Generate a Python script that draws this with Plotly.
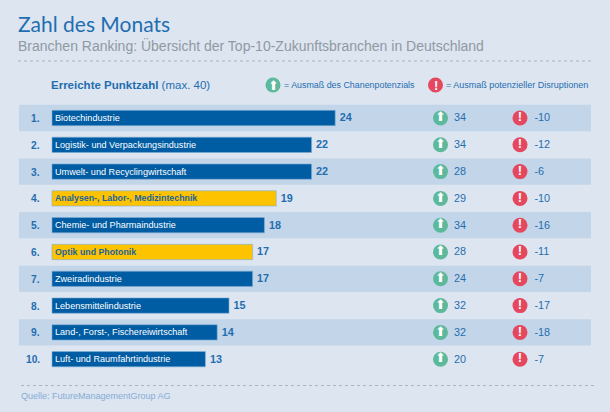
import plotly.graph_objects as go

W, H = 610, 412
ranks = [1, 2, 3, 4, 5, 6, 7, 8, 9, 10]
branches = ["Biotechindustrie", "Logistik- und Verpackungsindustrie", "Umwelt- und Recyclingwirtschaft",
            "Analysen-, Labor-, Medizintechnik", "Chemie- und Pharmaindustrie", "Optik und Photonik",
            "Zweiradindustrie", "Lebensmittelindustrie", "Land-, Forst-, Fischereiwirtschaft",
            "Luft- und Raumfahrtindustrie"]
points = [24, 22, 22, 19, 18, 17, 17, 15, 14, 13]
chances = [34, 34, 28, 29, 34, 28, 24, 32, 32, 20]
disruptions = [-10, -12, -6, -10, -16, -11, -7, -17, -18, -7]
highlighted = [4, 6]

BG = "#dde5f0"
BAND = "#c3d5e9"
BLUE = "#005ca3"
GOLD = "#fdc300"
TXT = "#1f6eb0"
GREEN = "#5cb99c"
RED = "#e5475f"
SANS = "Liberation Sans"

PX_PER_UNIT = 11.8
X0 = 52
ROW0, ROW_H = 118, 26.8
xr = [(0 - X0) / PX_PER_UNIT, (W - X0) / PX_PER_UNIT]
yr = [1 + (H - ROW0) / ROW_H, 1 - ROW0 / ROW_H]
TEXT_DY = 0.8 / ROW_H
text_y = [r + TEXT_DY for r in ranks]


def px(x):
    return (x - X0) / PX_PER_UNIT


fig = go.Figure()
fig.add_trace(go.Bar(
    y=ranks, x=points, orientation="h", width=0.57,
    marker=dict(color=[GOLD if r in highlighted else BLUE for r in ranks],
                line=dict(color="#7fb0d8", width=0.6)),
    text=branches, textposition="inside", insidetextanchor="start", constraintext="none",
    textangle=0,
    insidetextfont=dict(family=SANS,
                        size=[8.8 if r in highlighted else 9.1 for r in ranks],
                        weight=["bold" if r in highlighted else "normal" for r in ranks],
                        color=["#1b639f" if r in highlighted else "white" for r in ranks]),
    hoverinfo="skip"))
fig.add_trace(go.Scatter(
    y=text_y, x=[p + 4.5 / PX_PER_UNIT for p in points], mode="text", text=[str(p) for p in points],
    textposition="middle right",
    textfont=dict(family=SANS, size=10.8, color=TXT, weight="bold"), hoverinfo="skip"))

c_x = [px(440.5)] * 10
d_x = [px(520)] * 10
fig.add_trace(go.Scatter(y=ranks, x=c_x, mode="markers+text", text=["⬆"] * 10,
                         textposition="middle center",
                         textfont=dict(family="DejaVu Sans", size=13, color="white"),
                         marker=dict(symbol="circle", size=15, color=GREEN), hoverinfo="skip"))
fig.add_trace(go.Scatter(y=ranks, x=d_x, mode="markers+text", text=["!"] * 10,
                         textposition="middle center",
                         textfont=dict(family=SANS, size=13, color="white", weight="bold"),
                         marker=dict(symbol="circle", size=15, color=RED), hoverinfo="skip"))
fig.add_trace(go.Scatter(y=text_y, x=[px(454)] * 10, mode="text", text=[str(v) for v in chances],
                         textposition="middle right",
                         textfont=dict(family=SANS, size=10.8, color=TXT), hoverinfo="skip"))
fig.add_trace(go.Scatter(y=text_y, x=[px(534.5)] * 10, mode="text", text=[str(v) for v in disruptions],
                         textposition="middle right",
                         textfont=dict(family=SANS, size=10.8, color=TXT), hoverinfo="skip"))


def note(x, y, text, size, color, family=SANS, anchor="left"):
    fig.add_annotation(x=x / W, y=1 - y / H, xref="paper", yref="paper", text=text, showarrow=False,
                       xanchor=anchor, yanchor="middle", font=dict(family=family, size=size, color=color))


note(16, 24, "Zahl des Monats", 21, TXT, "Lato")
note(16, 46, "Branchen Ranking: Übersicht der Top-10-Zukunftsbranchen in Deutschland", 14, "#8f99a3")
note(49, 85, "<b>Erreichte Punktzahl</b> (max. 40)", 11.5, TXT)
note(282, 85, "= Ausmaß des Chanenpotenzials", 8.9, TXT)
note(444, 85, "= Ausmaß potenzieller Disruptionen", 9, TXT)
note(19, 396, "Quelle: FutureManagementGroup AG", 9, "#86acd6")
for r in ranks:
    note(42, ROW0 + ROW_H * (r - 1) + 0.5, f"<b>{r}.</b>", 10.2, TXT, anchor="right")

shapes = []
for r in ranks:
    if r % 2:
        shapes.append(dict(type="rect", xref="paper", yref="y", x0=19 / W, x1=591 / W,
                           y0=r - 0.49, y1=r + 0.49, fillcolor=BAND, line=dict(width=0), layer="below"))
for (a, b, y) in [(18, 591, 61), (21, 595, 385.5)]:
    shapes.append(dict(type="line", xref="paper", yref="paper", x0=a / W, x1=b / W,
                       y0=1 - y / H, y1=1 - y / H, line=dict(color="#a9b6c4", width=1, dash="dot")))
# legend icons
shapes.append(dict(type="circle", xref="paper", yref="paper", x0=265.5 / W, x1=280.5 / W,
                   y0=1 - 92.5 / H, y1=1 - 77.5 / H, fillcolor=GREEN, line=dict(width=0)))
shapes.append(dict(type="circle", xref="paper", yref="paper", x0=428 / W, x1=443 / W,
                   y0=1 - 92.5 / H, y1=1 - 77.5 / H, fillcolor=RED, line=dict(width=0)))
note(273, 85, "⬆", 13, "white", family="DejaVu Sans", anchor="center")
note(435.5, 85, "<b>!</b>", 13, "white", anchor="center")

fig.update_layout(
    width=W, height=H, margin=dict(l=0, r=0, t=0, b=0), autosize=False,
    paper_bgcolor=BG, plot_bgcolor=BG, showlegend=False, shapes=shapes, barmode="overlay",
    xaxis=dict(range=xr, visible=False, fixedrange=True),
    yaxis=dict(range=yr, visible=False, fixedrange=True),
)
fig.write_html("out.html", config=dict(displayModeBar=False),
               post_script="document.body.style.margin='0';document.body.style.overflow='hidden';"
                           "document.body.style.background='" + BG + "';")
